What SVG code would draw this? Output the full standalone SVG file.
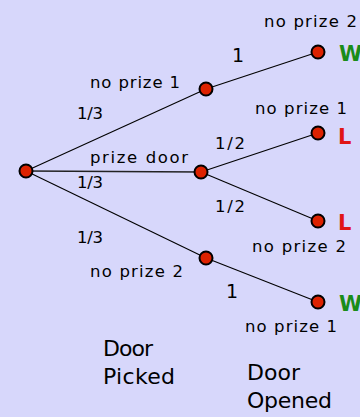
<svg xmlns="http://www.w3.org/2000/svg" width="360" height="417" viewBox="0 0 360 417">
<style>
.t{font-family:"DejaVu Sans","Liberation Sans",sans-serif;font-size:16.5px;fill:#000}
.one{font-family:"DejaVu Sans","Liberation Sans",sans-serif;font-size:19px;fill:#000}
.big{font-family:"DejaVu Sans","Liberation Sans",sans-serif;font-size:22px;fill:#000}
.w{font-family:"DejaVu Sans","Liberation Sans",sans-serif;font-size:21px;font-weight:bold;fill:#1a8c1a}
.l{font-family:"DejaVu Sans","Liberation Sans",sans-serif;font-size:21px;font-weight:bold;fill:#e01515}
.e{stroke:#000;stroke-width:1.1;fill:none}
.n{fill:#dd2200;stroke:#000;stroke-width:2}
</style>
<rect width="360" height="417" fill="#d7d7fb"/>
<g id="connectors">
<line class="e" x1="26" y1="171" x2="206" y2="89"/>
<line class="e" x1="26" y1="171" x2="201" y2="172" style="stroke-width:1.6;stroke:#222"/>
<line class="e" x1="26" y1="171" x2="206" y2="258"/>
<line class="e" x1="206" y1="89" x2="318" y2="52"/>
<line class="e" x1="201" y1="172" x2="318" y2="133"/>
<line class="e" x1="201" y1="172" x2="318" y2="221"/>
<line class="e" x1="206" y1="258" x2="318" y2="302"/>
</g>
<g id="root"><circle class="n" cx="26" cy="171" r="6.5"/></g>
<g id="pick1"><circle class="n" cx="206" cy="89" r="6.5"/>
<text class="t" x="90" y="88" textLength="90" lengthAdjust="spacing">no prize 1</text>
<text class="t" x="77" y="119" textLength="26" lengthAdjust="spacing">1/3</text></g>
<g id="pickprize"><circle class="n" cx="201" cy="172" r="6.5"/>
<text class="t" x="90" y="163" textLength="98" lengthAdjust="spacing">prize door</text>
<text class="t" x="77" y="188" textLength="26" lengthAdjust="spacing">1/3</text></g>
<g id="pick2"><circle class="n" cx="206" cy="258" r="6.5"/>
<text class="t" x="77" y="243" textLength="26" lengthAdjust="spacing">1/3</text>
<text class="t" x="90" y="277" textLength="93" lengthAdjust="spacing">no prize 2</text></g>
<g id="leaf1"><circle class="n" cx="318" cy="52" r="6.5"/>
<text class="t" x="264" y="27" textLength="93" lengthAdjust="spacing">no prize 2</text>
<text class="one" x="232" y="62">1</text>
<text class="w" x="339" y="61">W</text></g>
<g id="leaf2"><circle class="n" cx="318" cy="133" r="6.5"/>
<text class="t" x="255" y="114" textLength="92" lengthAdjust="spacing">no prize 1</text>
<text class="t" x="215" y="149" textLength="30" lengthAdjust="spacing">1/2</text>
<text class="l" x="338" y="144">L</text></g>
<g id="leaf3"><circle class="n" cx="318" cy="221" r="6.5"/>
<text class="t" x="215" y="212" textLength="30" lengthAdjust="spacing">1/2</text>
<text class="l" x="338" y="230">L</text>
<text class="t" x="252" y="252" textLength="94" lengthAdjust="spacing">no prize 2</text></g>
<g id="leaf4"><circle class="n" cx="318" cy="302" r="6.5"/>
<text class="one" x="226" y="298">1</text>
<text class="w" x="339" y="311">W</text>
<text class="t" x="245" y="332" textLength="92" lengthAdjust="spacing">no prize 1</text></g>
<g id="labels">
<text class="big" x="103" y="356" textLength="50" lengthAdjust="spacing">Door</text>
<text class="big" x="103" y="384" textLength="72" lengthAdjust="spacing">Picked</text>
<text class="big" x="247" y="380" textLength="53" lengthAdjust="spacing">Door</text>
<text class="big" x="247" y="408" textLength="85" lengthAdjust="spacing">Opened</text>
</g>
</svg>
